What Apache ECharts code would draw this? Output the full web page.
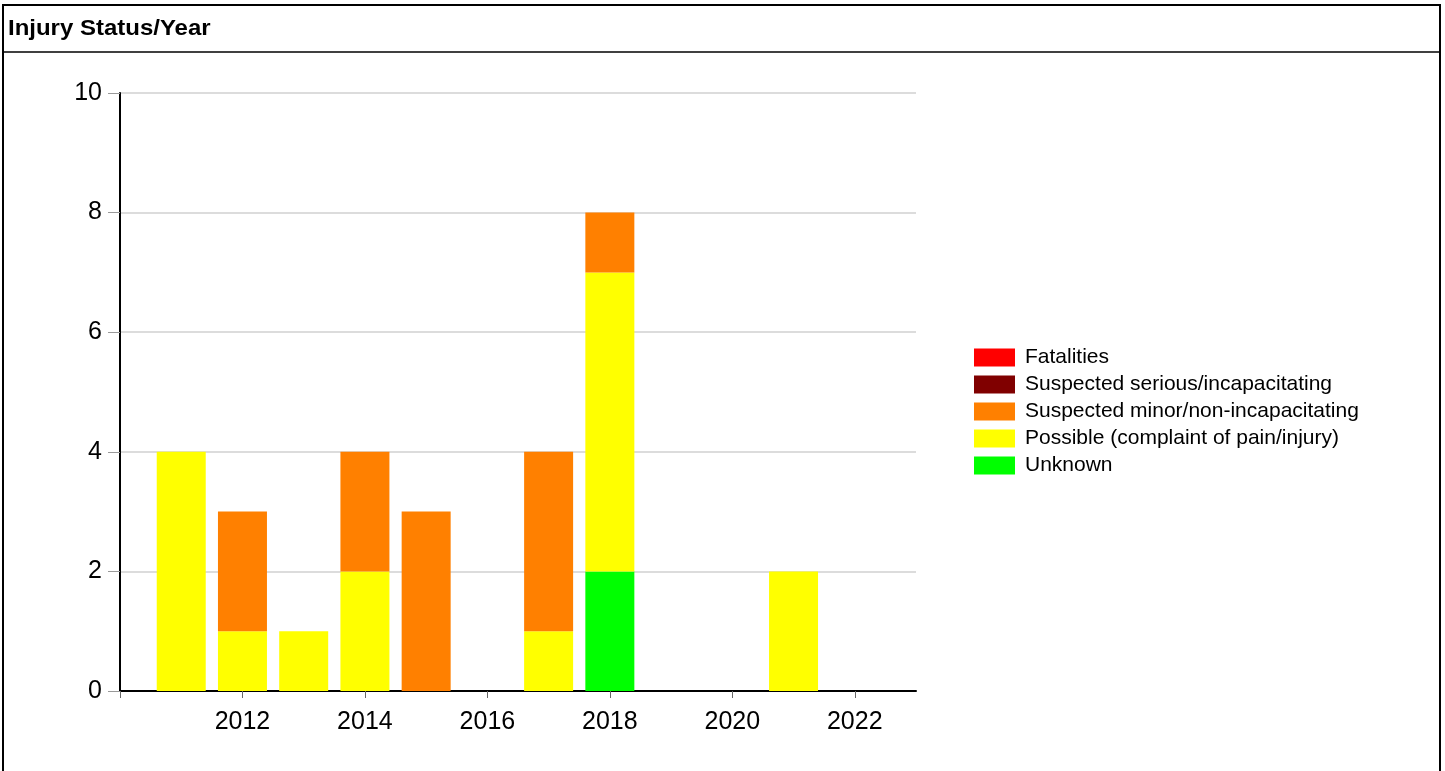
<!DOCTYPE html>
<html><head><meta charset="utf-8">
<script src="https://cdn.jsdelivr.net/npm/echarts@6/dist/echarts.min.js"></script>
<style>html,body{margin:0;padding:0;background:#fff}#c{width:1445px;height:771px}</style>
</head><body><div id="c"></div>
<script>
// x categories span 2010..2023 (axis extent); bars only where values exist
const years      = ['2010','2011','2012','2013','2014','2015','2016','2017','2018','2019','2020','2021','2022','2023'];
const fatalities = ['-',0,0,0,0,0,0,0,0,0,0,0,0,'-'];
const serious    = ['-',0,0,0,0,0,0,0,0,0,0,0,0,'-'];
const minor      = ['-',0,2,0,2,3,0,3,1,0,0,0,0,'-'];
const possible   = ['-',4,1,1,2,0,0,1,5,0,0,2,0,'-'];
const unknown    = ['-',0,0,0,0,0,0,0,2,0,0,0,0,'-'];
const xTickYears  = ['2010','2012','2014','2016','2018','2020','2022'];
const xLabelYears = ['2012','2014','2016','2018','2020','2022'];
const seriesNames = ['Fatalities','Suspected serious/incapacitating','Suspected minor/non-incapacitating','Possible (complaint of pain/injury)','Unknown'];
const colors = {'Fatalities':'#ff0000','Suspected serious/incapacitating':'#800000','Suspected minor/non-incapacitating':'#ff8000','Possible (complaint of pain/injury)':'#ffff00','Unknown':'#00ff00'};

const font = 'Liberation Sans, Arial, sans-serif';
const mk = (name, arr) => ({
  name, type:'bar', stack:'s', barWidth:49, data: arr,
  itemStyle:{color:colors[name]}, emphasis:{disabled:true}
});
const chart = echarts.init(document.getElementById('c'));
chart.setOption({
  animation:false,
  textStyle:{fontFamily:font},
  grid:{left:120, right:529, top:93, bottom:80},
  graphic:[
    {type:'rect', shape:{x:3,y:5,width:1437,height:780}, style:{fill:'none', stroke:'#000', lineWidth:2}, silent:true},
    {type:'line', shape:{x1:3,y1:52,x2:1440,y2:52}, style:{stroke:'#000', lineWidth:1.5}, silent:true},
    {type:'text', x:8, y:29, scaleX:1.09, style:{text:'Injury Status/Year', font:'bold 22px '+font, fill:'#000', verticalAlign:'middle'}}
  ],
  legend:{
    orient:'vertical', left:974, top:347, padding:0, itemWidth:41, itemHeight:18, itemGap:6,
    icon:'rect', data:seriesNames,
    textStyle:{fontSize:21, color:'#000', fontFamily:font, padding:[0,0,0,5]},
    selectedMode:false
  },
  xAxis:{
    type:'category', data:years, boundaryGap:false,
    axisLine:{lineStyle:{color:'#000', width:2}},
    axisTick:{show:true, length:7, interval:(i,v)=>xTickYears.includes(v), lineStyle:{color:'#666', width:1}},
    axisLabel:{interval:(i,v)=>xLabelYears.includes(v), fontSize:25, color:'#000', margin:19, fontFamily:font},
    splitLine:{show:false}
  },
  yAxis:{
    type:'value', min:0, max:10, interval:2,
    axisLine:{show:true, lineStyle:{color:'#000', width:2}},
    axisTick:{show:true, length:12, lineStyle:{color:'#999', width:1}},
    axisLabel:{fontSize:25, color:'#000', margin:18, fontFamily:font},
    splitLine:{lineStyle:{color:'#dcdcdc', width:2}}
  },
  series:[
    mk('Unknown', unknown),
    mk('Possible (complaint of pain/injury)', possible),
    mk('Suspected minor/non-incapacitating', minor),
    mk('Suspected serious/incapacitating', serious),
    mk('Fatalities', fatalities)
  ]
});
</script></body></html>
